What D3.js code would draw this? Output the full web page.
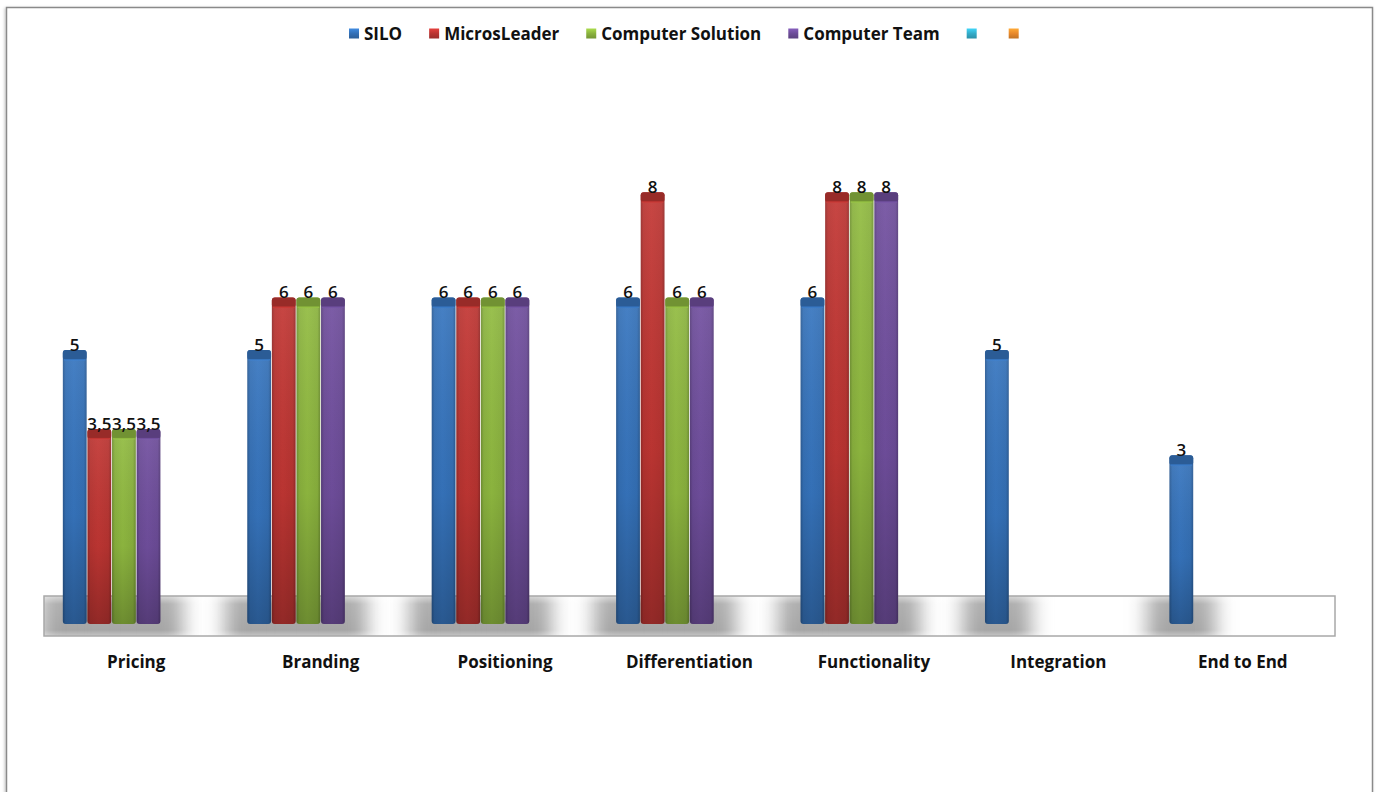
<!DOCTYPE html>
<html>
<head>
<meta charset="utf-8">
<script src="https://cdn.jsdelivr.net/npm/d3@7"></script>
<style>
  html, body { margin: 0; padding: 0; background: #fff; }
  svg text { font-family: "Open Sans", "DejaVu Sans", sans-serif; }
</style>
</head>
<body>
<div id="chart"></div>
<script>
var width = 1381, height = 792;

// categories and series (two legend entries have no name and no data)
var categories = ["Pricing", "Branding", "Positioning", "Differentiation", "Functionality", "Integration", "End to End"];
var seriesNames = ["SILO", "MicrosLeader", "Computer Solution", "Computer Team", "", " "];
var silo = [5, 5, 6, 6, 6, 5, 3];
var microsLeader = [3.5, 6, 6, 8, 8, null, null];
var computerSolution = [3.5, 6, 6, 6, 8, null, null];
var computerTeam = [3.5, 6, 6, 6, 8, null, null];
var emptyA = [null, null, null, null, null, null, null];
var emptyB = [null, null, null, null, null, null, null];
var seriesValues = [silo, microsLeader, computerSolution, computerTeam, emptyA, emptyB];

var baseColors = ["#3470b6", "#b93431", "#8ab23e", "#6c4c98", "#33acc9", "#e8892c"];

var svg = d3.select("#chart").append("svg")
    .attr("width", width)
    .attr("height", height);

var defs = svg.append("defs");

// chart frame
defs.append("filter").attr("id", "frameShadow")
    .append("feDropShadow").attr("dx", -1).attr("dy", 1).attr("stdDeviation", 1.5)
    .attr("flood-color", "#000").attr("flood-opacity", 0.25);
svg.append("rect")
    .attr("x", 6.5).attr("y", 7.5)
    .attr("width", 1366).attr("height", 790)
    .attr("fill", "#fff")
    .attr("stroke", "#8a8a8a")
    .attr("stroke-width", 1.5)
    .attr("filter", "url(#frameShadow)");

// scales
var x0 = d3.scaleBand().domain(categories).range([44, 1335]).paddingInner(0.2).paddingOuter(0.1);
var x1 = d3.scaleBand().domain(d3.range(seriesNames.length)).range([0, x0.bandwidth()]);
var y = d3.scaleLinear().domain([0, 10]).range([613, 87]);
var floorTop = 596, floorBottom = 636, barBottom = 624;

// gradients for each series
baseColors.forEach(function (c, i) {
    var base = d3.color(c);
    var g = defs.append("linearGradient").attr("id", "bar" + i)
        .attr("x1", 0).attr("x2", 1).attr("y1", 0).attr("y2", 0);
    g.append("stop").attr("offset", 0).attr("stop-color", base.darker(0.6));
    g.append("stop").attr("offset", 0.12).attr("stop-color", base);
    g.append("stop").attr("offset", 0.45).attr("stop-color", base.brighter(0.15));
    g.append("stop").attr("offset", 0.88).attr("stop-color", base);
    g.append("stop").attr("offset", 1).attr("stop-color", base.darker(0.6));

    var lg = defs.append("linearGradient").attr("id", "leg" + i)
        .attr("x1", 0).attr("x2", 0).attr("y1", 0).attr("y2", 1);
    lg.append("stop").attr("offset", 0).attr("stop-color", base.brighter(0.6));
    lg.append("stop").attr("offset", 0.5).attr("stop-color", base);
    lg.append("stop").attr("offset", 1).attr("stop-color", base.darker(0.5));
});

var shade = defs.append("linearGradient").attr("id", "shade")
    .attr("x1", 0).attr("x2", 0).attr("y1", 0).attr("y2", 1);
shade.append("stop").attr("offset", 0).attr("stop-color", "#fff").attr("stop-opacity", 0.08);
shade.append("stop").attr("offset", 0.6).attr("stop-color", "#000").attr("stop-opacity", 0.05);
shade.append("stop").attr("offset", 1).attr("stop-color", "#000").attr("stop-opacity", 0.25);

// floor
defs.append("clipPath").attr("id", "floorClip")
    .append("rect").attr("x", 44).attr("y", floorTop)
    .attr("width", 1335 - 44).attr("height", floorBottom - floorTop);
defs.append("filter").attr("id", "blurShadow")
    .attr("x", -0.5).attr("y", -0.5).attr("width", 2).attr("height", 2)
    .append("feGaussianBlur").attr("stdDeviation", "10 0");

var floorGrad = defs.append("linearGradient").attr("id", "floorGrad")
    .attr("x1", 0).attr("x2", 0).attr("y1", 0).attr("y2", 1);
floorGrad.append("stop").attr("offset", 0).attr("stop-color", "#fff").attr("stop-opacity", 0.55);
floorGrad.append("stop").attr("offset", 0.2).attr("stop-color", "#fff").attr("stop-opacity", 0.1);
floorGrad.append("stop").attr("offset", 0.85).attr("stop-color", "#fff").attr("stop-opacity", 0);
floorGrad.append("stop").attr("offset", 1).attr("stop-color", "#fff").attr("stop-opacity", 0.35);

svg.append("rect")
    .attr("x", 44).attr("y", floorTop)
    .attr("width", 1335 - 44).attr("height", floorBottom - floorTop)
    .attr("fill", "#fff");

var barsFlat = [];
categories.forEach(function (cat, ci) {
    seriesValues.forEach(function (vals, si) {
        if (vals[ci] != null) barsFlat.push({ cat: cat, s: si, v: vals[ci] });
    });
});

svg.append("g").attr("clip-path", "url(#floorClip)")
    .selectAll("rect").data(barsFlat).enter().append("rect")
    .attr("x", d => x0(d.cat) + x1(d.s) - 22)
    .attr("y", floorTop)
    .attr("width", x1.bandwidth() + 44)
    .attr("height", floorBottom - floorTop)
    .attr("fill", "#a6a6a6")
    .attr("filter", "url(#blurShadow)");

svg.append("rect")
    .attr("x", 44).attr("y", floorTop)
    .attr("width", 1335 - 44).attr("height", floorBottom - floorTop)
    .attr("fill", "url(#floorGrad)")
    .attr("stroke", "#a8a8a8")
    .attr("stroke-width", 1.5);

// bars
var bars = svg.append("g").selectAll("g").data(barsFlat).enter().append("g")
    .attr("transform", d => `translate(${x0(d.cat) + x1(d.s)},0)`);
var bw = x1.bandwidth() - 0.8;

bars.append("rect")
    .attr("x", 0.4)
    .attr("y", d => y(d.v))
    .attr("width", bw)
    .attr("height", d => barBottom - y(d.v))
    .attr("rx", 3)
    .attr("fill", d => "url(#bar" + d.s + ")");
bars.append("rect")
    .attr("x", 0.4)
    .attr("y", d => y(d.v))
    .attr("width", bw)
    .attr("height", d => barBottom - y(d.v))
    .attr("rx", 3)
    .attr("fill", "url(#shade)");
// top cap
bars.append("rect")
    .attr("x", 0.4)
    .attr("y", d => y(d.v))
    .attr("width", bw)
    .attr("height", 10)
    .attr("rx", 3)
    .attr("fill", d => d3.color(baseColors[d.s]).darker(0.55));
bars.append("rect")
    .attr("x", 1.5)
    .attr("y", d => y(d.v) + 9)
    .attr("width", bw - 2.2)
    .attr("height", 1.5)
    .attr("fill", d => d3.color(baseColors[d.s]).brighter(0.5))
    .attr("opacity", 0.6);

// value labels
svg.append("g").selectAll("text").data(barsFlat).enter().append("text")
    .attr("x", d => x0(d.cat) + x1(d.s) + x1.bandwidth() / 2)
    .attr("y", d => y(d.v) + 1)
    .attr("text-anchor", "middle")
    .style("font-size", "17px")
    .style("font-weight", 600)
    .attr("fill", "#111")
    .text(d => String(d.v).replace(".", ","));

// category labels
svg.append("g").selectAll("text").data(categories).enter().append("text")
    .attr("x", d => x0(d) + x0.bandwidth() / 2)
    .attr("y", 668)
    .attr("text-anchor", "middle")
    .style("font-size", "17px")
    .style("font-weight", 700)
    .attr("fill", "#111")
    .text(d => d);

// legend
var legend = svg.append("g");
var lx = 349;
seriesNames.forEach(function (name, i) {
    legend.append("rect")
        .attr("x", lx).attr("y", 28.5)
        .attr("width", 10).attr("height", 10)
        .attr("fill", "url(#leg" + i + ")");
    var t = legend.append("text")
        .attr("x", lx + 15).attr("y", 40)
        .style("font-size", "17px")
        .style("font-weight", 700)
        .attr("fill", "#111")
        .text(name.trim());
    lx += 15 + t.node().getComputedTextLength() + 27;
});
</script>
</body>
</html>
